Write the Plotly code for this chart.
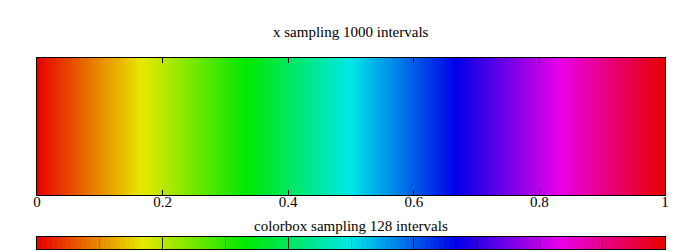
import numpy as np
import colorsys
import plotly.graph_objects as go

# chart definition
n_main = 1000          # x sampling intervals
n_box = 128            # colorbox sampling intervals
tick_vals = [0, 0.2, 0.4, 0.6, 0.8, 1]
tick_text = ["0", "0.2", "0.4", "0.6", "0.8", "1"]
box_major = [0.2, 0.4, 0.6, 0.8]
box_minor = [0.1, 0.3, 0.5, 0.7, 0.9]
title_text = "x sampling 1000 intervals"
box_label = "colorbox sampling 128 intervals"

# x samples (edges -> centers)
edges_main = np.linspace(0, 1, n_main + 1)
x_main = (edges_main[:-1] + edges_main[1:]) / 2
edges_box = np.linspace(0, 1, n_box + 1)
x_box = (edges_box[:-1] + edges_box[1:]) / 2

# HSV palette (hue = value)
stops = np.linspace(0, 1, 61)
cscale = []
for s in stops:
    r, g, b = colorsys.hsv_to_rgb(s % 1.0 if s < 1 else 0.0, 1.0, 0.91)
    cscale.append([float(s), f"rgb({int(r*255)},{int(g*255)},{int(b*255)})"])

fig = go.Figure()
fig.add_trace(go.Heatmap(x=edges_main, y=[0, 1], z=[x_main.tolist()],
                         colorscale=cscale, zmin=0, zmax=1, showscale=False,
                         xaxis="x", yaxis="y", hoverinfo="skip"))
fig.add_trace(go.Heatmap(x=edges_box, y=[0, 1], z=[x_box.tolist()],
                         colorscale=cscale, zmin=0, zmax=1, showscale=False,
                         xaxis="x2", yaxis="y2", hoverinfo="skip"))
# invisible trace to carry the minor-tick axis
fig.add_trace(go.Scatter(x=[0, 1], y=[0, 1], mode="none", xaxis="x3", yaxis="y2",
                         showlegend=False, hoverinfo="skip"))

font = dict(family="Liberation Serif, DejaVu Serif, serif", size=15, color="black")

fig.update_layout(
    width=700, height=252,
    margin=dict(l=0, r=0, t=0, b=0, autoexpand=False),
    paper_bgcolor="white", plot_bgcolor="white",
    font=font, showlegend=False,
    xaxis=dict(domain=[37/700, 665/700], range=[0, 1], tickvals=tick_vals, ticktext=tick_text,
               ticks="inside", ticklen=5, tickcolor="black", tickwidth=1,
               showline=True, linecolor="black", linewidth=1, mirror="ticks",
               showgrid=False, zeroline=False, anchor="y", ticklabelstandoff=-7,
               automargin=False),
    yaxis=dict(domain=[1-195/252, 1-58/252], range=[0, 1], showticklabels=False,
               ticks="", showline=True, linecolor="black", linewidth=1, mirror=True,
               showgrid=False, zeroline=False, anchor="x", automargin=False),
    xaxis2=dict(domain=[37/700, 665/700], range=[0, 1], tickvals=box_major,
                showticklabels=False,
                ticks="inside", ticklen=12, tickcolor="rgba(0,0,0,0.85)", tickwidth=1,
                showline=True, linecolor="black", linewidth=1, mirror=True,
                showgrid=False, zeroline=False, anchor="y2", automargin=False),
    xaxis3=dict(domain=[37/700, 665/700], range=[0, 1], tickvals=box_minor,
                showticklabels=False, overlaying="x2",
                ticks="inside", ticklen=12, tickcolor="rgba(0,0,0,0.18)", tickwidth=1,
                showline=False, showgrid=False, zeroline=False, anchor="y2",
                automargin=False),
    yaxis2=dict(domain=[1-249/252, 1-237/252], range=[0, 1], showticklabels=False,
                ticks="", showline=True, linecolor="black", linewidth=1, mirror=True,
                showgrid=False, zeroline=False, anchor="x2", automargin=False),
    annotations=[
        dict(text=title_text, x=351/700, y=1-32/252, xref="paper", yref="paper",
             showarrow=False, xanchor="center", yanchor="middle",
             font=dict(family=font["family"], size=15, color="black")),
        dict(text=box_label, x=351/700, y=1-226/252, xref="paper", yref="paper",
             showarrow=False, xanchor="center", yanchor="middle",
             font=dict(family=font["family"], size=15, color="black")),
    ],
)

fig.write_html("out.html")
